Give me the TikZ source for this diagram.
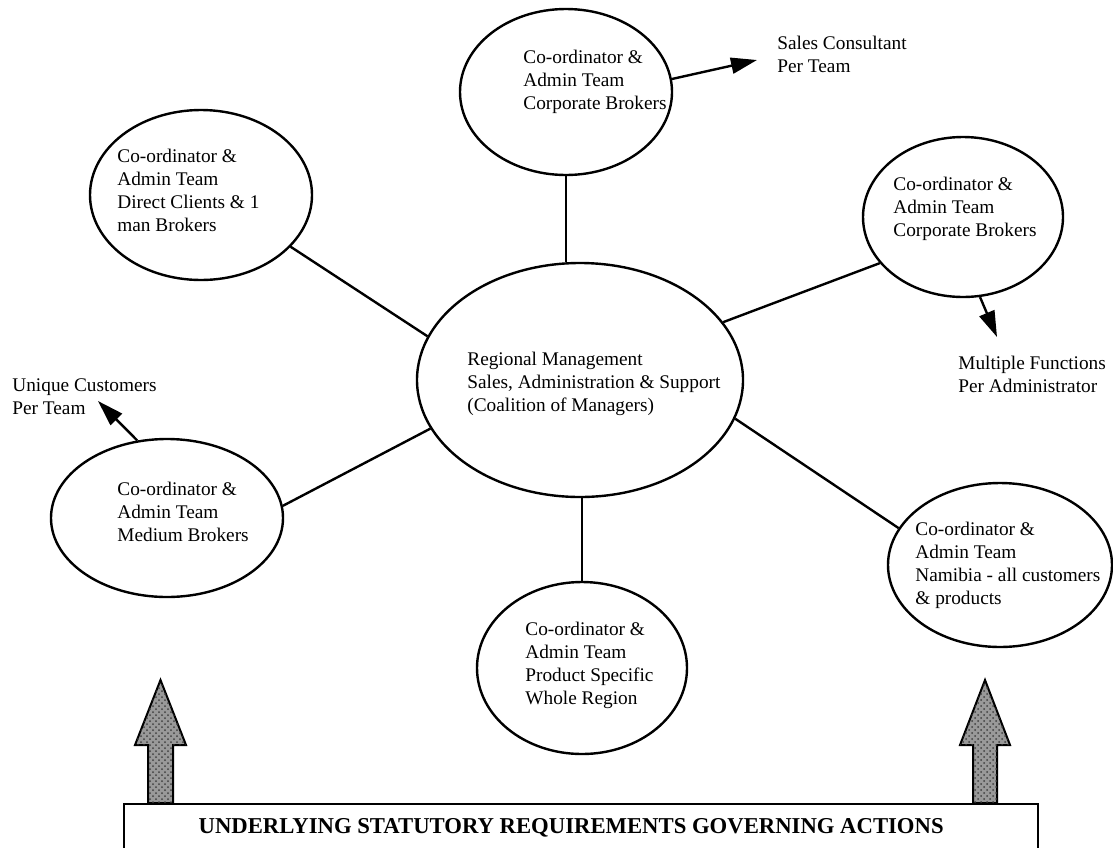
\documentclass[tikz,border=0pt]{standalone}
\usepackage{fontspec}
\setmainfont{Liberation Serif}
\usetikzlibrary{arrows.meta,shapes.geometric,patterns}
\begin{document}
\begin{tikzpicture}[x=0.5pt,y=-0.5pt,
  every node/.style={font=\fontsize{9.65}{11.5}\selectfont},
  unit/.style={draw, line width=1.2pt, ellipse, inner sep=0pt},
  txt/.style={align=left, inner sep=0pt, anchor=north west},
  link/.style={line width=1.2pt},
  pointer/.style={line width=1.2pt, -{Triangle[length=13pt,width=8pt]}},
  bigarrow/.style={draw=black, line width=1pt, fill=black!40,
    postaction={pattern=crosshatch dots, pattern color=black!75}}
]
\useasboundingbox (0,0) rectangle (1113,847);

% ellipses
\node[unit, minimum width=163pt, minimum height=117pt] (C)  at (580,380) {};
\node[unit, minimum width=106pt, minimum height=83pt]  (T)  at (566,92)  {};
\node[unit, minimum width=111pt, minimum height=85pt]  (LU) at (201,195) {};
\node[unit, minimum width=100pt, minimum height=80pt]  (RU) at (963,217) {};
\node[unit, minimum width=116pt, minimum height=79pt]  (LL) at (167,518) {};
\node[unit, minimum width=105pt, minimum height=86pt]  (B)  at (582,668) {};
\node[unit, minimum width=112pt, minimum height=82pt]  (RL) at (1000,565) {};

% ellipse texts
\node[txt] (Ct)  at (467,352) {Regional Management\\Sales, Administration \& Support\\(Coalition of Managers)};
\node[txt] (Tt)  at (523,50)  {Co-ordinator \&\\Admin Team\\Corporate Brokers};
\node[txt] (LUt) at (117,149) {Co-ordinator \&\\Admin Team\\Direct Clients \& 1\\man Brokers};
\node[txt] (RUt) at (893,177) {Co-ordinator \&\\Admin Team\\Corporate Brokers};
\node[txt] (LLt) at (117,482) {Co-ordinator \&\\Admin Team\\Medium Brokers};
\node[txt] (Bt)  at (525,622) {Co-ordinator \&\\Admin Team\\Product Specific\\Whole Region};
\node[txt] (RLt) at (915,522) {Co-ordinator \&\\Admin Team\\Namibia - all customers\\\& products};

% connectors to the centre
\draw[link] (T.south) -- (T.south |- C.north);
\draw[link] (LU.330) -- (C.164);
\draw[link] (RU.209) -- (C.22);
\draw[link] (LL.6) -- (C.198);
\draw[link] (C.346) -- (RL.160);
\draw[link] (C.south -| B.north) -- (B.north);

% side notes with pointers
\coordinate (salesTip) at (757,60);
\coordinate (multiTip) at (997,337);
\coordinate (uniqueTip) at (98,401);
\draw[pointer] (T.7) -- (salesTip);
\draw[pointer] (RU.282) -- (multiTip);
\draw[pointer] (LL.111) -- (uniqueTip);
\node[txt] (sales)  at (777,36)  {Sales Consultant\\Per Team};
\node[txt] (multi)  at (958,356) {Multiple Functions\\Per Administrator};
\node[txt] (unique) at (12,378)  {Unique Customers\\Per Team};

% base statement
\node[draw, line width=1.2pt, anchor=north west, minimum width=457pt, minimum height=24pt,
      inner sep=0pt, font=\fontsize{11.35}{13}\selectfont\bfseries] (req) at (123,803)
      {UNDERLYING STATUTORY REQUIREMENTS GOVERNING ACTIONS\hspace*{10pt}};

% supporting arrows
\draw[bigarrow] (148,803) -- (148,745) -- (135,745) -- (160.5,680) -- (186,745) -- (173,745) -- (173,803) -- cycle;
\draw[bigarrow] (973,803) -- (973,745) -- (960,745) -- (985,680) -- (1010,745) -- (997,745) -- (997,803) -- cycle;
\end{tikzpicture}
\end{document}
